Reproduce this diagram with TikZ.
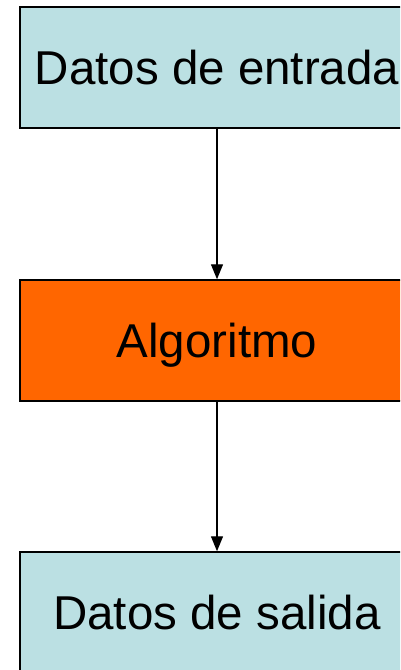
\documentclass[tikz,border=0pt]{standalone}
\usepackage{fontspec}
\setmainfont{Liberation Sans}
\usetikzlibrary{arrows.meta}
\definecolor{paleblue}{HTML}{BBE0E3}
\definecolor{algorange}{HTML}{FF6600}
\tikzset{
  flowbox/.style={draw=black, line width=1.5pt, minimum width=394pt, minimum height=121pt,
    inner sep=0pt, text height=34pt, text depth=0pt, font=\fontsize{47.5}{56}\selectfont, text=black},
  flowarrow/.style={draw=black, line width=1.3pt, -{Triangle[width=12pt,length=15pt]}}
}
\begin{document}
\begin{tikzpicture}[x=1pt,y=1pt]
\useasboundingbox (0,0) rectangle (400,-670);
\clip (0,0) rectangle (400,-670);
\fill[white] (0,0) rectangle (400,-670);
\node[flowbox, fill=paleblue] (entrada) at (217,-67.5) {Datos de entrada};
\node[flowbox, fill=algorange] (algo) at (217,-340.5) {Algoritmo};
\node[flowbox, fill=paleblue] (salida) at (217,-612.5) {Datos de salida};
\draw[flowarrow] (entrada.south) -- (algo.north);
\draw[flowarrow] (algo.south) -- (salida.north);
\end{tikzpicture}
\end{document}
